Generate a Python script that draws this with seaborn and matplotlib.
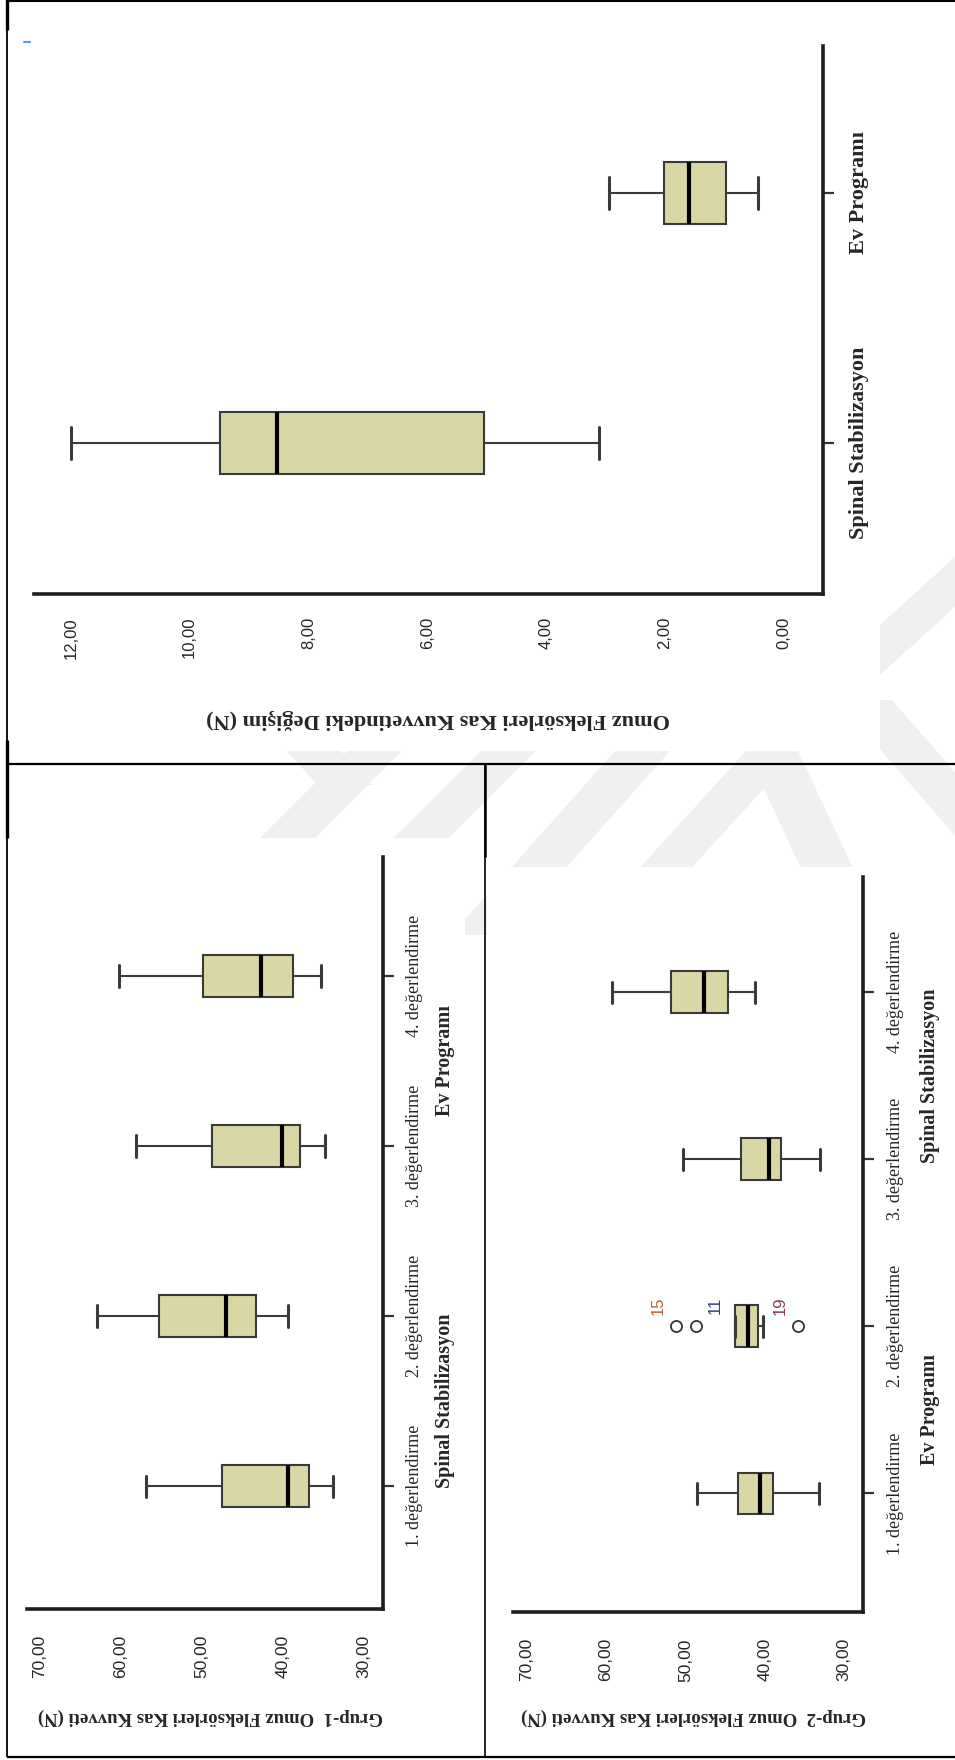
import pandas as pd
import seaborn as sns
import matplotlib.pyplot as plt
import matplotlib.transforms as mtransforms
from matplotlib.patches import Polygon, Rectangle

# 1. Values (five-number summaries per box)
fark_kategori = ["Ev Programı", "Spinal Stabilizasyon"]  # top to bottom
fark_min = [0.44, 3.11]
fark_q1 = [0.97, 5.05]
fark_med = [1.60, 8.53]
fark_q3 = [2.02, 9.49]
fark_max = [2.95, 12.00]
fark_ticks = [0, 2, 4, 6, 8, 10, 12]

degerlendirme = ["4. değerlendirme", "3. değerlendirme",
                 "2. değerlendirme", "1. değerlendirme"]  # top to bottom

g1_min = [35.3, 34.9, 39.4, 33.8]
g1_q1 = [38.8, 37.9, 43.4, 36.8]
g1_med = [42.7, 40.2, 47.1, 39.4]
g1_q3 = [49.9, 48.8, 55.3, 47.5]
g1_max = [60.3, 58.2, 63.0, 56.9]

g2_min = [41.2, 33.0, 40.2, 33.1]
g2_q1 = [44.6, 37.9, 40.9, 39.0]
g2_med = [47.7, 39.4, 42.1, 40.6]
g2_q3 = [51.8, 43.0, 43.8, 43.4]
g2_max = [59.2, 50.3, 43.8, 48.5]

# outliers of Grup-2, 2. değerlendirme
g2_uc_deger = [51.2, 48.7, 35.8]
g2_uc_no = ["15", "11", "19"]
g2_uc_renk = ["#c65a2e", "#2c3f94", "#8a3b4e"]
g2_uc_kategori = "2. değerlendirme"

kuvvet_ticks = [30, 40, 50, 60, 70]

KUTU = "#d9d7a6"
CIZGI = "#3a3a3a"
SERIF = "Liberation Serif"
SANS = "Liberation Sans"
W, H = 955, 1760


def uzun_tablo(kat, mn, q1, md, q3, mx):
    rows = []
    for i, k in enumerate(kat):
        for v in (mn[i], q1[i], md[i], q3[i], mx[i]):
            rows.append({"kategori": k, "deger": v})
    return pd.DataFrame(rows)


def px_ax(x0, y0, x1, y1):
    return fig.add_axes([x0 / W, 1 - y1 / H, (x1 - x0) / W, (y1 - y0) / H])


def kutu(ax, df, order):
    sns.boxplot(data=df, x="deger", y="kategori", order=order, orient="y",
                width=0.25, whis=(0, 100), showfliers=False, saturation=1,
                color=KUTU, linecolor=CIZGI, linewidth=1.5,
                medianprops={"color": "black", "linewidth": 3},
                capprops={"linewidth": 2.2}, ax=ax)


def bicim(ax, xlim, ylim, order_labels, tick_len, pad_x, pad_y, cat_font):
    ax.set_xlim(*xlim)
    ax.set_ylim(*ylim)
    ax.set_facecolor("none")
    ax.set_xlabel("")
    ax.set_ylabel("")
    for s in ("top", "left"):
        ax.spines[s].set_visible(False)
    for s in ("bottom", "right"):
        ax.spines[s].set_linewidth(2.6)
        ax.spines[s].set_color("#1e1e1e")
    ax.yaxis.tick_right()
    ax.tick_params(axis="x", direction="out", length=tick_len, width=1.6,
                   pad=pad_x, color="#333333")
    ax.tick_params(axis="y", direction="out", length=8, width=1.6,
                   pad=pad_y, color="#333333")
    ax.set_yticks(range(len(order_labels)))
    ax.set_yticklabels(order_labels, rotation=90, va="center", **cat_font)


sns.set_style("white")
plt.rcParams["font.family"] = [SANS, "DejaVu Sans"]

fig = plt.figure(figsize=(W / 100, H / 100), dpi=100)

# 2. Page background: watermark bands, pasted white images, frame lines
bg = fig.add_axes([0, 0, 1, 1])
bg.set_xlim(0, W)
bg.set_ylim(H, 0)
bg.axis("off")


def bant(ust_x, ust_y, alt_y, egim, gen):
    dx = egim * (alt_y - ust_y)
    return [(ust_x, ust_y), (ust_x + gen, ust_y),
            (ust_x + gen + dx, alt_y), (ust_x + dx, alt_y)]


for b in [bant(347, 751, 840, -1.0, 55), bant(286, 751, 785, 0.95, 55),
          bant(481, 751, 840, -1.0, 55), bant(615, 751, 935, -0.89, 55),
          bant(746, 751, 870, -0.91, 52), bant(746, 751, 870, 0.47, 52),
          bant(837, 700, 870, 0.87, 55), bant(968, 545, 700, -1.1, 55)]:
    bg.add_patch(Polygon(b, closed=True, facecolor="#f0f0f0", edgecolor="none"))

for x0, y0, x1, y1 in [(10, 0, 880, 751), (9, 838, 465, 1755), (487, 867, 950, 1755)]:
    bg.add_patch(Rectangle((x0, y0), x1 - x0, y1 - y0, facecolor="white", edgecolor="none"))

cizgiler = [((7, 955), (1, 1), 1.5), ((7, 7), (0, 1757), 1.3), ((7, 7), (0, 30), 2.4),
            ((7, 7), (740, 838), 2.4), ((7, 955), (764, 764), 1.6),
            ((485, 485), (764, 1757), 1.2), ((485, 485), (764, 857), 1.8),
            ((7, 955), (1757, 1757), 1.6)]
for xs, ys, lw in cizgiler:
    bg.plot(xs, ys, color="black", lw=lw, solid_capstyle="butt")
bg.plot([24, 30], [42, 42], color="#5b9bea", lw=1.5)

# 3. Top panel: change in shoulder flexor strength
ax0 = px_ax(33.5, 46, 823, 594)
kutu(ax0, uzun_tablo(fark_kategori, fark_min, fark_q1, fark_med, fark_q3, fark_max),
     fark_kategori)
bicim(ax0, (12.63, -0.66), (1.604, -0.588), fark_kategori, 8.5, 8, 11,
      dict(fontfamily=SERIF, fontweight="bold", fontsize=16))
ax0.set_xticks(fark_ticks)
ax0.set_xticklabels([f"{t:.2f}".replace(".", ",") for t in fark_ticks],
                    rotation=90, fontsize=12)
fig.text(438 / W, 1 - 719 / H, "Omuz Fleksörleri Kas Kuvvetindeki Değişim (N)",
         rotation=180, ha="center", va="center", fontfamily=SERIF,
         fontweight="bold", fontsize=16)

# 4. Grup-1 and Grup-2 panels
paneller = [
    dict(box=(26.7, 857, 382.7, 1608.6), xlim=(71.64, 27.73), ylim=(3.72, -0.70),
         stats=(g1_min, g1_q1, g1_med, g1_q3, g1_max), grup_x=1.175,
         gruplar=[("Spinal Stabilizasyon", 2.5), ("Ev Programı", 0.5)],
         baslik="Grup-1  Omuz Fleksörleri Kas Kuvveti (N)", bx=210),
    dict(box=(513.3, 876.6, 863.3, 1611.8), xlim=(71.69, 27.57), ylim=(3.709, -0.693),
         stats=(g2_min, g2_q1, g2_med, g2_q3, g2_max), grup_x=1.19,
         gruplar=[("Ev Programı", 2.5), ("Spinal Stabilizasyon", 0.5)],
         baslik="Grup-2  Omuz Fleksörleri Kas Kuvveti (N)", bx=693),
]

eksenler = []
for p in paneller:
    ax = px_ax(*p["box"])
    kutu(ax, uzun_tablo(degerlendirme, *p["stats"]), degerlendirme)
    bicim(ax, p["xlim"], p["ylim"], degerlendirme, 7, 12, 9,
          dict(fontfamily=SERIF, fontsize=13))
    ax.set_xticks(kuvvet_ticks)
    ax.set_xticklabels([f"{t:.2f}".replace(".", ",") for t in kuvvet_ticks],
                       rotation=90, fontsize=12.5)
    tr = mtransforms.blended_transform_factory(ax.transAxes, ax.transData)
    for ad, ypos in p["gruplar"]:
        ax.text(p["grup_x"], ypos, ad, transform=tr, rotation=90, ha="center",
                va="center", fontfamily=SERIF, fontweight="bold", fontsize=14.5)
    fig.text(p["bx"] / W, 1 - 1717 / H, p["baslik"], rotation=180, ha="center",
             va="center", fontfamily=SERIF, fontweight="bold", fontsize=13.5)
    eksenler.append(ax)

# outliers with case numbers
ax2 = eksenler[1]
uc_df = pd.DataFrame({"kategori": [g2_uc_kategori] * len(g2_uc_deger),
                      "deger": g2_uc_deger})
sns.stripplot(data=uc_df, x="deger", y="kategori", order=degerlendirme, orient="y",
              jitter=False, size=8, color="white", edgecolor="#333333",
              linewidth=1.3, ax=ax2)
ax2.set_xlim(*paneller[1]["xlim"])
ax2.set_ylim(*paneller[1]["ylim"])
ax2.set_xlabel("")
ax2.set_ylabel("")
ypos = degerlendirme.index(g2_uc_kategori)
for val, no, renk, dx in zip(g2_uc_deger, g2_uc_no, g2_uc_renk, [-13, 14, -13]):
    ax2.annotate(no, (val, ypos), xytext=(dx, 15), textcoords="offset points",
                 rotation=90, ha="center", va="center", fontsize=12, color=renk)

fig.savefig("out.png", dpi=100)
